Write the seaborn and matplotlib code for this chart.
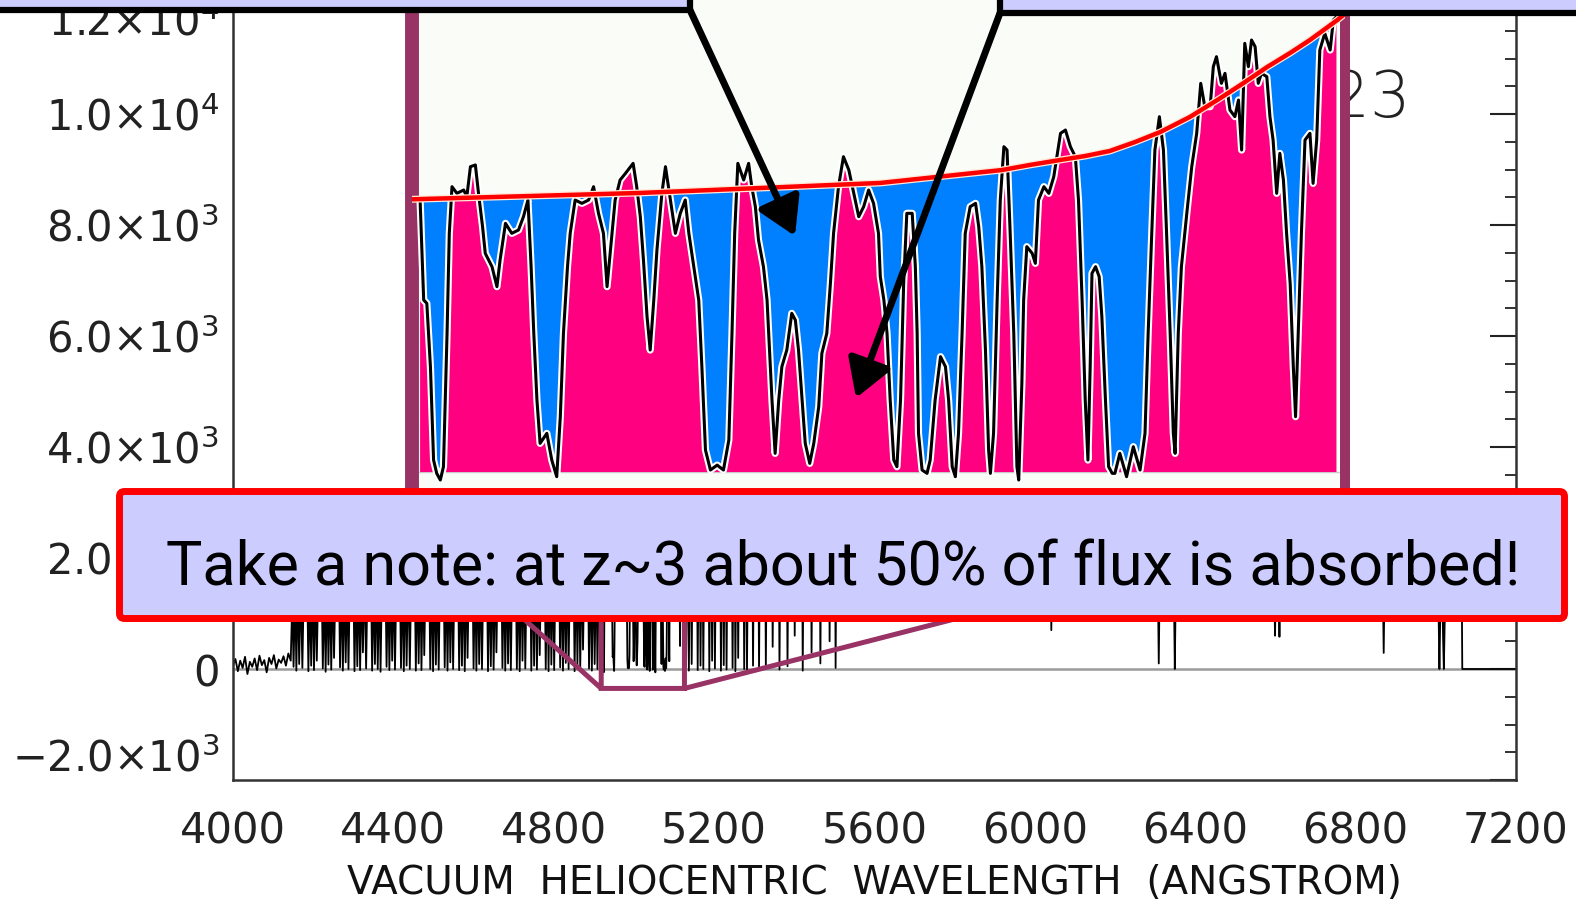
import numpy as np
import pandas as pd
import matplotlib
matplotlib.use("Agg")
import matplotlib.pyplot as plt
import matplotlib.patheffects as pe
from matplotlib.patches import Rectangle, FancyBboxPatch, FancyArrowPatch
from matplotlib.font_manager import FontProperties
from matplotlib.ticker import FixedLocator, MultipleLocator
import seaborn as sns

# ---------------- spectrum data (wavelength in Angstrom, flux in counts) ----------------
# below the Lyman limit: noise around zero
noise_wave = [4000, 4006, 4012, 4018, 4024, 4030, 4036, 4042, 4048, 4054, 4060, 4066, 4072,
              4078, 4084, 4090, 4096, 4102, 4108, 4114, 4120, 4126, 4132, 4138, 4144]
noise_flux = [60, 180, -40, 150, 20, 220, -90, 130, 40, 190, -20, 240, 70,
              160, -60, 200, 90, 250, 10, 170, 110, 230, 60, 280, 150]

# Lyman-alpha forest, blue side of the zoomed window
forest_blue_wave = [
    4148, 4151, 4155, 4158, 4162, 4165, 4169, 4173, 4177, 4185, 4188, 4192, 4195, 4199, 4202,
    4206, 4209, 4213, 4221, 4224, 4228, 4231, 4235, 4238, 4242, 4245, 4249, 4252, 4256, 4264,
    4267, 4271, 4274, 4278, 4281, 4285, 4288, 4292, 4300, 4303, 4307, 4310, 4314, 4317, 4321,
    4324, 4328, 4332, 4336, 4344, 4347, 4351, 4354, 4358, 4361, 4365, 4368, 4372, 4380, 4383,
    4387, 4390, 4394, 4397, 4401, 4404, 4408, 4416, 4419, 4423, 4426, 4430, 4433, 4437, 4441,
    4445, 4453, 4456, 4460, 4463, 4467, 4470, 4474, 4477, 4481, 4489, 4492, 4496, 4499, 4503,
    4506, 4510, 4513, 4517, 4525, 4528, 4532, 4535, 4539, 4542, 4546, 4549, 4553, 4561, 4564,
    4568, 4571, 4575, 4578, 4582, 4585, 4589, 4597, 4600, 4604, 4607, 4611, 4614, 4618, 4621,
    4625, 4633, 4636, 4640, 4643, 4647, 4650, 4654, 4657, 4661, 4669, 4672, 4676, 4679, 4683,
    4686, 4690, 4693, 4697, 4705, 4708, 4712, 4715, 4719, 4722, 4726, 4729, 4733, 4741, 4744,
    4748, 4751, 4755, 4758, 4762, 4765, 4769, 4777, 4780, 4784, 4787, 4791, 4794, 4798, 4801,
    4805, 4813, 4816, 4820, 4823, 4827, 4830, 4834, 4837, 4841, 4849, 4852, 4856, 4859, 4863,
    4866, 4870, 4873, 4877, 4885, 4888, 4892, 4895, 4899, 4902, 4906, 4909, 4913, 4918]
forest_blue_flux = [
    1300, 40, 1500, -30, 1600, 90, 1550, 20, 1650, 1600, -40, 1550, 60, 1700, -20,
    1600, 150, 1700, 1650, 10, 1600, -50, 1700, 80, 1650, -10, 1750, 200, 1700, 1750,
    30, 1700, -30, 1750, 120, 1650, 0, 1800, 1750, -40, 1700, 50, 1800, -20, 1700,
    300, 1750, 10, 1800, 1750, -30, 1700, 90, 1800, 0, 1750, -50, 1850, 1800, 40,
    1750, -20, 1850, 150, 1800, -10, 1850, 1850, 20, 1800, -40, 1900, 60, 1850, 0,
    1900, 1900, -30, 1850, 100, 1900, -20, 1850, 250, 1950, 1900, 0, 1850, -40, 1950,
    80, 1900, -10, 1950, 1950, 30, 1900, -30, 1950, 120, 1900, 0, 2000, 1950, -20,
    1900, 60, 2000, -40, 1950, 200, 2000, 2000, 10, 1950, -30, 2000, 90, 1950, 0,
    2050, 2000, -40, 1950, 50, 2050, -10, 2000, 300, 2050, 2050, 20, 2000, -30, 2050,
    100, 2000, -20, 2100, 2050, 0, 2000, -40, 2100, 150, 2050, 10, 2100, 2100, -30,
    2050, 60, 2100, -10, 2050, 250, 2100, 2100, 0, 2050, -40, 2100, 80, 2050, -20,
    2100, 2100, 30, 2050, -30, 2100, 110, 2050, 0, 2100, 2100, -40, 2050, 70, 2100,
    -10, 2050, 350, 2100, 2100, 10, 2050, -30, 2100, 90, 2050, 0, 2050, 2040]

# zoomed window 4920-5125 A (shown enlarged in the inset)
inset_wave = [
    4920.2, 4921.0, 4921.7, 4922.5, 4923.2, 4923.9, 4924.7, 4925.4, 4926.2, 4926.7,
    4927.3, 4928.4, 4929.9, 4930.6, 4931.4, 4932.5, 4933.2, 4934.1, 4934.7, 4936.2,
    4937.3, 4938.0, 4939.2, 4940.6, 4942.1, 4943.2, 4944.2, 4944.9, 4945.5, 4946.2,
    4946.9, 4948.4, 4949.5, 4950.6, 4951.4, 4952.1, 4953.0, 4953.6, 4954.7, 4956.2,
    4957.7, 4958.8, 4959.9, 4961.0, 4961.8, 4962.5, 4963.6, 4964.7, 4965.9, 4967.6,
    4968.4, 4969.2, 4969.9,
    4970.7, 4971.4, 4972.2, 4972.9, 4974.0, 4974.8, 4975.9, 4977.0, 4978.1, 4979.2,
    4980.0, 4981.1, 4982.2, 4982.9, 4983.7, 4984.8, 4986.3, 4987.7, 4988.9, 4989.6,
    4990.2, 4990.9, 4992.2, 4993.3, 4994.0, 4994.8, 4995.5, 4996.6, 4997.4, 4998.5,
    4999.2, 5000.0, 5000.7, 5001.8, 5002.9, 5003.7, 5004.4, 5005.2, 5005.9, 5006.9,
    5007.8, 5008.9, 5009.6, 5010.7, 5011.5, 5012.2, 5013.3, 5014.4, 5015.6, 5016.7,
    5017.8, 5018.9, 5020.0, 5021.1, 5022.2,
    5022.6, 5023.4, 5024.1, 5024.8, 5025.6, 5026.3, 5027.1, 5027.8, 5028.5, 5029.7,
    5030.4, 5030.8, 5031.1, 5031.9, 5033.0, 5033.7, 5034.8, 5036.0, 5037.1, 5037.8,
    5038.6, 5039.3, 5040.0, 5040.8, 5041.5, 5042.6, 5043.8, 5044.5, 5045.2, 5046.0,
    5046.7, 5047.1, 5047.8, 5048.6, 5049.3, 5050.1, 5050.8, 5051.5, 5052.3, 5053.0,
    5053.4, 5054.1, 5054.5, 5055.2, 5056.4, 5057.1, 5057.8, 5059.0, 5060.1, 5061.2,
    5061.9, 5062.7, 5063.8, 5064.9, 5066.0, 5066.7, 5067.5, 5068.2, 5068.8, 5069.3,
    5069.7, 5070.5, 5071.3, 5071.9, 5072.7, 5073.4, 5074.2,
    5074.8, 5075.9, 5077.4, 5078.9, 5080.4, 5081.5, 5082.2, 5083.0, 5083.7, 5084.7,
    5085.6, 5086.3, 5087.1, 5087.8, 5088.2, 5088.9, 5089.6, 5090.8, 5091.9, 5093.0,
    5093.9, 5094.8, 5096.0, 5096.7, 5097.4, 5098.5, 5099.3, 5100.4, 5101.5, 5102.3,
    5103.0, 5103.7, 5104.5, 5105.2, 5106.0, 5106.7, 5107.4, 5108.6, 5109.3, 5110.0,
    5110.8, 5111.5, 5112.3, 5113.0, 5113.8, 5114.5, 5115.0, 5115.6, 5116.3, 5117.1,
    5118.2, 5118.9, 5119.7, 5120.4, 5121.5, 5122.7, 5123.4, 5124.1]
inset_flux = [
    2040, 1290, 1265, 790, 90, -10, -60, 40, 1040, 1790,
    2140, 2090, 2115, 2065, 2290, 2303, 2090, 1840, 1640, 1540,
    1390, 1590, 1865, 1790, 1815, 1915, 2040, 1540, 1040, 540,
    215, 290, 90, -35, 415, 1040, 1540, 1790, 2040, 2015,
    2040, 2140, 1940, 1790, 1390, 1640, 2040, 2190, 2240, 2315,
    2140, 1915, 1590,
    1165, 915, 1290, 1665, 2090, 2290, 2040, 1790, 1940, 2040,
    1790, 1540, 1290, 790, 165, 15, 52, 15, 240, 1040,
    1790, 2315, 2190, 2315, 2140, 1990, 1740, 1540, 1290, 540,
    140, 540, 790, 915, 1190, 1140, 915, 540, 215, 65,
    215, 490, 890, 1040, 1415, 1790, 2140, 2365, 2265, 2090,
    1915, 1990, 2115, 2015, 1790,
    1465, 1290, 1040, 540, 90, 40, 540, 1415, 1940, 1940,
    1540, 1040, 290, 15, -10, 90, 540, 865, 790, 540,
    40, -35, 290, 1040, 1790, 1990, 2015, 1840, 1540, 915,
    165, -10, 290, 1290, 2040, 2440, 2415, 1790, 1040, 40,
    -60, 665, 1290, 1690, 1640, 1565, 2040, 2140, 2090, 2215,
    2365, 2540, 2565, 2440, 2365, 2040, 1290, 540, 90, 790,
    1490, 1540, 1465, 1165, 540, 40, -10,
    -10, 140, -35, 190, 15, 290, 1040, 1790, 2415, 2665,
    2415, 1790, 1040, 290, 140, 1040, 1540, 1940, 2290, 2540,
    2915, 2740, 2740, 3040, 3115, 2915, 2990, 2715, 2665, 2790,
    2415, 3215, 3040, 3240, 3190, 2915, 2990, 2965, 2665, 2490,
    2090, 2390, 2190, 1790, 1415, 790, 415, 1040, 1790, 2490,
    2540, 2165, 2490, 3165, 3290, 3165, 3390, 3415]

# fitted continuum over the zoomed window
cont_wave = [4918.0, 4969.2, 4995.9, 5022.6, 5049.7, 5055.9, 5062.6, 5068.2, 5073.7, 5079.3,
             5084.9, 5091.5, 5097.6, 5103.1, 5108.7, 5113.8, 5118.2, 5124.3, 5126.5]
cont_flux = [2045, 2093, 2130, 2168, 2265, 2303, 2340, 2370, 2408, 2475,
             2550, 2663, 2790, 2910, 3038, 3143, 3240, 3390, 3450]

# Lyman-alpha forest, red side of the zoomed window
forest_red_wave = [
    5127, 5130, 5134, 5137, 5141, 5144, 5148, 5156, 5159, 5163, 5166, 5170, 5173, 5177, 5185,
    5188, 5192, 5195, 5199, 5202, 5206, 5214, 5217, 5221, 5224, 5228, 5231, 5235, 5243, 5246,
    5250, 5253, 5257, 5260, 5264, 5272, 5275, 5279, 5282, 5286, 5294, 5297, 5301, 5309, 5312,
    5316, 5326, 5329, 5333, 5343, 5346, 5350, 5360, 5363, 5367, 5380, 5383, 5387, 5398, 5401,
    5405, 5418, 5421, 5425, 5440, 5443, 5447, 5462, 5465, 5469, 5485, 5488, 5492, 5500, 5503,
    5507]
forest_red_flux = [
    3200, 40, 3400, -30, 3500, 90, 3550, 3500, -20, 3600, 60, 3550, 0, 3650, 3600,
    -40, 3650, 150, 3700, 10, 3650, 3750, -30, 3700, 70, 3800, -10, 3750, 3800, 20,
    3850, -40, 3800, 200, 3900, 3850, 0, 3950, -30, 3900, 4000, 60, 3950, 4050, -20,
    4000, 4100, 30, 4050, 4150, 400, 4100, 4200, -10, 4150, 4250, 50, 4200, 4300, 600,
    4250, 4350, -30, 4300, 4400, 300, 4350, 4500, 100, 4450, 4600, 500, 4550, 4700, 20,
    4800]

# Lyman-alpha emission and the red continuum with a few metal lines
red_wave = [5520, 5560, 5600, 5625, 5650, 5700, 5760, 5850, 5950, 6030, 6038, 6041, 6044, 6050,
            6200, 6304, 6307, 6309, 6311, 6314, 6344, 6347, 6349, 6351, 6354, 6500, 6594, 6597,
            6599, 6601, 6605, 6608, 6610, 6612, 6616, 6750, 6866, 6868, 6870, 6872, 6874, 7004,
            7007, 7009, 7011, 7015, 7018, 7020, 7022, 7026, 7064, 7066, 7200]
red_flux = [5600, 7400, 9000, 9600, 8800, 6800, 5200, 4300, 3900, 3700, 2900, 700, 2900, 3650,
            3450, 3300, 1400, 100, 1400, 3300, 3250, 1200, 0, 1200, 3250, 3050, 2950, 1400,
            600, 1600, 2850, 1500, 580, 1600, 2850, 2750, 2600, 1400, 290, 1400, 2550, 2400,
            900, 0, 900, 2000, 600, 0, 800, 2350, 2300, 0, 0]

# axis ticks
xtick_vals = [4000, 4400, 4800, 5200, 5600, 6000, 6400, 6800, 7200]
xtick_text = ["4000", "4400", "4800", "5200", "5600", "6000", "6400", "6800", "7200"]
ytick_vals = [-2000, 0, 2000, 4000, 6000, 8000, 10000, 12000]
ytick_text = [r"$-2.0{\times}10^{3}$", r"$0$", r"$2.0{\times}10^{3}$", r"$4.0{\times}10^{3}$",
              r"$6.0{\times}10^{3}$", r"$8.0{\times}10^{3}$", r"$1.0{\times}10^{4}$",
              r"$1.2{\times}10^{4}$"]

note_text = "Take a note: at z~3 about 50% of flux is absorbed!"

# ---------------- figure ----------------
sns.set_theme(style="white")
plt.rcParams["font.family"] = ["DejaVu Sans"]
plt.rcParams["mathtext.fontset"] = "dejavusans"

W, H = 1576, 901
fig = plt.figure(figsize=(W / 100, H / 100), dpi=100)
fig.patch.set_facecolor("white")


def px_box(x0, y0, x1, y1):
    return [x0 / W, 1 - y1 / H, (x1 - x0) / W, (y1 - y0) / H]


# main spectrum panel
ax = fig.add_axes(px_box(233, 3, 1516, 780), zorder=0)
ax.set_facecolor("white")
spec = pd.DataFrame({
    "wave": np.concatenate([noise_wave, forest_blue_wave, inset_wave, forest_red_wave, red_wave]),
    "flux": np.concatenate([noise_flux, forest_blue_flux, inset_flux, forest_red_flux, red_flux]),
})
ax.axhline(0, color="#9a9a9a", lw=1.8, zorder=1)
sns.lineplot(data=spec, x="wave", y="flux", ax=ax, color="black", lw=1.3,
             estimator=None, sort=False, zorder=2)
ax.set_xlim(4000, 7200)
ax.set_ylim(-2000, 12000)
ax.xaxis.set_major_locator(FixedLocator(xtick_vals))
ax.set_xticklabels(xtick_text)
ax.yaxis.set_major_locator(FixedLocator(ytick_vals))
ax.set_yticklabels(ytick_text)
ax.yaxis.set_minor_locator(MultipleLocator(500))
ax.tick_params(axis="both", which="both", direction="in", top=False, right=True,
               labelright=False, colors="#222222")
ax.tick_params(axis="y", which="major", length=19, width=1.5, pad=10, labelsize=30)
ax.tick_params(axis="y", which="minor", length=8, width=1.3)
ax.tick_params(axis="x", which="major", length=12, width=1.5, pad=22, labelsize=30)
ax.tick_params(axis="x", which="minor", bottom=False, top=False)
for s in ax.spines.values():
    s.set_linewidth(1.8)
    s.set_color("#333333")
ylabs = ax.get_yticklabels()
ylabs[0].set_va("bottom")
ylabs[-1].set_va("top")
ax.set_xlabel("VACUUM  HELIOCENTRIC  WAVELENGTH  (ANGSTROM)", fontsize=28,
              labelpad=8, color="#111111")
ax.set_ylabel("")
ax.text(1411 / W, 1 - 117 / H, "Q1422+23", transform=fig.transFigure, ha="right",
        va="baseline", fontsize=46, color="#222222", fontweight="light", zorder=3)

# zoomed window
axin = fig.add_axes(px_box(412, 0, 1345, 518.7), zorder=2)
axin.set_facecolor("#FAFCF8")
axin.set_xlim(4918.4, 5126.0)
axin.set_ylim(-350, 3540)
iw = np.asarray(inset_wave, float)
ifl = np.asarray(inset_flux, float)
cont_at = np.interp(iw, cont_wave, cont_flux)
axin.axhline(0, color="#cccccc", lw=1.0, zorder=1)
axin.fill_between(iw, 0, ifl, where=ifl > 0, interpolate=True, color="#FF0080", lw=0, zorder=2)
axin.fill_between(iw, ifl, cont_at, where=ifl < cont_at, interpolate=True, color="#0080FF",
                  lw=0, zorder=2)
sns.lineplot(x=iw, y=ifl, ax=axin, color="black", lw=2.2, estimator=None, sort=False, zorder=4,
             path_effects=[pe.Stroke(linewidth=5.2, foreground="white"), pe.Normal()])
sns.lineplot(x=cont_wave, y=cont_flux, ax=axin, color="#FF0000", lw=3.2, estimator=None,
             sort=False, zorder=5,
             path_effects=[pe.Stroke(linewidth=5, foreground="#FFE6D6"), pe.Normal()])
axin.set_xticks([])
axin.set_yticks([])
axin.set_xlabel("")
axin.set_ylabel("")
axin.spines["top"].set_visible(False)
axin.spines["bottom"].set_visible(False)
axin.spines["left"].set_color("#993366")
axin.spines["left"].set_linewidth(10)
axin.spines["right"].set_color("#993366")
axin.spines["right"].set_linewidth(7.2)

ind = ax.indicate_inset_zoom(axin, edgecolor="#993366", linewidth=3.6, alpha=1.0)
for i, c in enumerate(ind.connectors):
    c.set_visible(i in (0, 2))

# annotation layer
ov = fig.add_axes([0, 0, 1, 1], zorder=10)
ov.set_xlim(0, W)
ov.set_ylim(H, 0)
ov.axis("off")
ov.add_patch(Rectangle((-20, -20), 710, 30, fc="#CCCCFF", ec="black", lw=4.5))
ov.add_patch(Rectangle((1000, -20), 600, 33, fc="#CCCCFF", ec="black", lw=4.5))
for start, tip in [((690, 10), (795, 236)), ((1000, 13), (856, 398))]:
    ov.add_patch(FancyArrowPatch(start, tip,
                                 arrowstyle="-|>,head_length=0.75,head_width=0.45",
                                 mutation_scale=30, lw=5, color="black",
                                 shrinkA=0, shrinkB=0))
ov.add_patch(FancyBboxPatch((119.5, 491.5), 1445, 127,
                            boxstyle="round,pad=0,rounding_size=5",
                            fc="#CCCCFF", ec="#FF0000", lw=5))
note_font = FontProperties(family=["Roboto", "Liberation Sans"], size=53)
note = ov.text(843, 585, note_text, ha="center", va="baseline", fontproperties=note_font,
               color="black")

# fit the note to the width of its box
fig.canvas.draw()
width_px = note.get_window_extent(renderer=fig.canvas.get_renderer()).width
note.set_fontsize(min(56.0, 53.0 * 1355.0 / width_px))

fig.savefig("out.png", dpi=100)
